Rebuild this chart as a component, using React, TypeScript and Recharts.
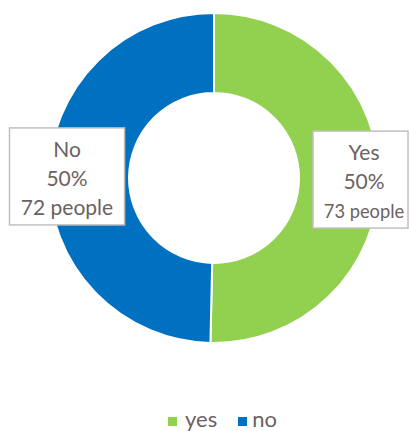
import React from "react";
import { PieChart, Pie, Cell, Legend } from "recharts";

const categories = ["yes", "no"];
const labelNames = ["Yes", "No"];
const counts = [73, 72];
const unitLabel = "people";

const COLORS = ["#92D050", "#0070C0"];
const TEXT_COLOR = "#6B6262";
const FONT = "Lato, 'Open Sans', sans-serif";

const data = categories.map((c, i) => ({ name: c, label: labelNames[i], value: counts[i] }));

const renderLabel = (props: any) => {
  const { cx, cy, midAngle, outerRadius, percent, index } = props;
  const RAD = Math.PI / 180;
  const r = outerRadius - 18;
  const x = cx + r * Math.cos(-midAngle * RAD);
  const y = cy + r * Math.sin(-midAngle * RAD);
  const d = data[index];
  let w = 115;
  const h = 97;
  let left = x - w / 2;
  let fs3 = 21;
  let tx = x;
  if (left + w > 408) {
    w = 408 - (x - 48);
    left = x - 48;
    fs3 = 18.3;
    tx = x + 3;
  }
  const top = y - h / 2;
  return (
    <g>
      <rect x={left} y={top} width={w} height={h} fill="#fff" stroke="#C4BFBF" strokeWidth={1.5} />
      <text x={tx} y={top + 29} textAnchor="middle" fill={TEXT_COLOR} fontSize={21} fontFamily={FONT}>
        {d.label}
      </text>
      <text x={tx} y={top + 58} textAnchor="middle" fill={TEXT_COLOR} fontSize={21} fontFamily={FONT}>
        {`${Math.round(percent * 100)}%`}
      </text>
      <text x={tx} y={top + 87} textAnchor="middle" fill={TEXT_COLOR} fontSize={fs3} fontFamily={FONT}>
        {`${d.value} ${unitLabel}`}
      </text>
    </g>
  );
};

const renderLegend = () => (
  <div
    style={{
      display: "flex",
      justifyContent: "flex-start",
      alignItems: "flex-start",
      fontFamily: FONT,
      fontSize: 22,
      color: TEXT_COLOR,
      lineHeight: "24px",
      paddingLeft: 168,
    }}
  >
    {categories.map((c, i) => (
      <div key={c} style={{ display: "flex", alignItems: "flex-start", marginRight: i === 0 ? 21 : 0 }}>
        <span
          style={{
            width: 9,
            height: 9,
            background: COLORS[i],
            display: "inline-block",
            marginTop: 10,
            marginRight: i === 0 ? 8 : 5,
          }}
        />
        <span>{c}</span>
      </div>
    ))}
  </div>
);

export default function App() {
  return (
    <div style={{ position: "absolute", left: 0, top: 0, width: 409, height: 431, background: "#fff" }}>
      <PieChart width={409} height={431} margin={{ top: 0, right: 0, bottom: 0, left: 0 }}>
        <Pie
          data={data}
          dataKey="value"
          nameKey="name"
          cx={214}
          cy={178}
          outerRadius={165}
          innerRadius={85}
          startAngle={90}
          endAngle={-270}
          stroke="#fff"
          strokeWidth={2}
          label={renderLabel}
          labelLine={false}
          isAnimationActive={false}
        >
          {data.map((d, i) => (
            <Cell key={d.name} fill={COLORS[i]} />
          ))}
        </Pie>
        <Legend content={renderLegend} wrapperStyle={{ position: "absolute", top: 407, left: 0, width: 409 }} />
      </PieChart>
    </div>
  );
}
